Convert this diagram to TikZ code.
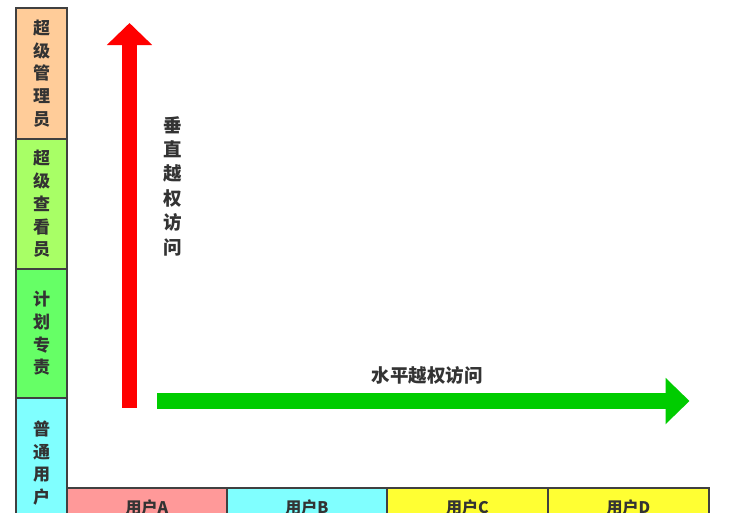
\documentclass[tikz,border=0pt]{standalone}
\usepackage{fontspec}
\newfontfamily\cjk{Noto Sans CJK SC}
\usetikzlibrary{arrows.meta}
\definecolor{txt}{HTML}{333333}
\definecolor{edge}{HTML}{404040}
\definecolor{cOrange}{HTML}{FFCC99}
\definecolor{cLime}{HTML}{A8FF66}
\definecolor{cGreen}{HTML}{66FF66}
\definecolor{cCyan}{HTML}{80FFFF}
\definecolor{cPink}{HTML}{FF9999}
\definecolor{cYellow}{HTML}{FFFF33}
\definecolor{aRed}{HTML}{FF0000}
\definecolor{aGreen}{HTML}{00CC00}
\tikzset{
  rolebox/.style={draw=edge, line width=2pt, anchor=north west, minimum width=51pt, inner sep=0pt,
    align=center, text=txt, font=\cjk\bfseries\fontsize{17}{22.7}\selectfont},
  userbox/.style={draw=edge, line width=2pt, anchor=north west, minimum height=40pt, inner sep=0pt,
    text=txt, font=\cjk\bfseries\fontsize{16}{18}\selectfont},
  bigarrow/.style={line cap=butt},
  lbl/.style={text=txt, font=\cjk\bfseries\fontsize{18.5}{24.4}\selectfont, align=center, inner sep=0pt}
}
\begin{document}
\begin{tikzpicture}[x=1pt,y=-1pt]
\useasboundingbox (0,0) rectangle (730,512);
\clip (0,0) rectangle (730,512);
\fill[white] (0,0) rectangle (730,512);
% left column
\node[rolebox, fill=cOrange, minimum height=131pt] (r1) at (15,7) {超\\级\\管\\理\\员};
\node[rolebox, fill=cLime, minimum height=130pt] (r2) at (15,138) {超\\级\\查\\看\\员};
\node[rolebox, fill=cGreen, minimum height=129pt] (r3) at (15,268) {计\\划\\专\\责};
\node[rolebox, fill=cCyan, minimum height=130pt] (r4) at (15,397) {普\\通\\用\\户};
% bottom row
\node[userbox, fill=cPink, minimum width=160pt] (u1) at (66,487) {\raisebox{2pt}{用户A}};
\node[userbox, fill=cCyan, minimum width=160pt] (u2) at (226,487) {\raisebox{2pt}{用户B}};
\node[userbox, fill=cYellow, minimum width=161pt] (u3) at (386,487) {\raisebox{2pt}{用户C}};
\node[userbox, fill=cYellow, minimum width=161pt] (u4) at (547,487) {\raisebox{2pt}{用户D}};
% arrows
\coordinate (vs) at (129.5,407.5);
\coordinate (ve) at (129.5,23);
\coordinate (hs) at (157,401);
\coordinate (he) at (689.5,401);
\draw[bigarrow, aRed, line width=15pt, -{Triangle[width=44pt,length=22pt]}] (vs) -- (ve);
\draw[bigarrow, aGreen, line width=16pt, -{Triangle[width=45pt,length=24pt]}] (hs) -- (he);
% labels
\node[lbl] (vl) at (173,186) {垂\\直\\越\\权\\访\\问};
\node[lbl] (hl) at (427,375) {水平越权访问};
\end{tikzpicture}
\end{document}
